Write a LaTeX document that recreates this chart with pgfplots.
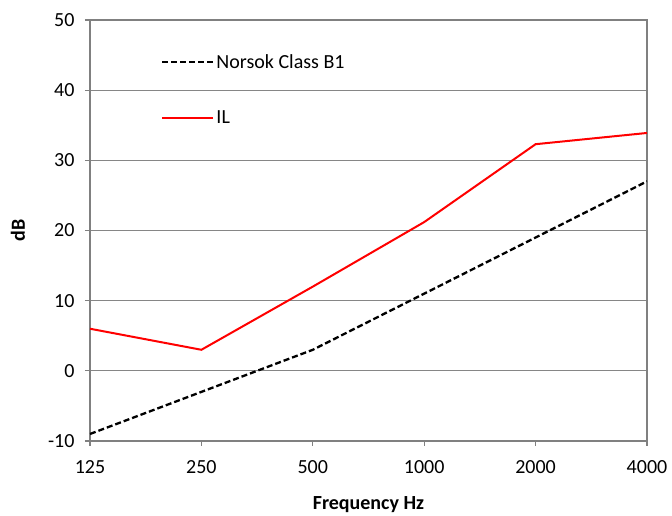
\documentclass[border=0pt]{standalone}
\usepackage{pgfplots}
\pgfplotsset{compat=1.18}
\usepackage{fontspec}
\setmainfont{Carlito}
\definecolor{gridgray}{HTML}{868686}
\definecolor{axgray}{HTML}{808080}

\begin{document}
\begin{tikzpicture}
\begin{axis}[
    scale only axis,
    width=557pt, height=421pt,
    at={(0pt,0pt)}, anchor=south west,
    xmin=0, xmax=5,
    ymin=-10, ymax=50,
    xtick={0,1,2,3,4,5},
    xticklabels={125,250,500,1000,2000,4000},
    ytick={-10,0,10,20,30,40,50},
    ymajorgrids,
    major grid style={draw=gridgray, line width=1pt},
    axis line style={draw=axgray, line width=1.2pt},
    tick style={draw=axgray, line width=1.2pt},
    tick align=outside,
    major tick length=5pt,
    xtick pos=bottom, ytick pos=left,
    /pgf/number format/assume math mode=true,
    ticklabel style={font=\fontsize{20}{23}\selectfont, text=black},
    yticklabel style={xshift=-7pt},
    xticklabel style={yshift=-11pt},
    xlabel={\textbf{Frequency Hz}},
    ylabel={\textbf{dB}},
    label style={font=\fontsize{20}{23}\selectfont},
    xlabel style={at={(0.5,-64pt)}, anchor=center},
    ylabel style={at={(-72pt,0.5)}, anchor=center},
    legend style={
        at={(71pt,351pt)}, anchor=west,
        draw=none, fill=none,
        font=\fontsize{20}{23}\selectfont,
        row sep=37pt,
        inner sep=0pt,
        /tikz/every even column/.append style={column sep=4pt},
        legend cell align=left,
    },
    legend image code/.code={\draw[#1] (0pt,0pt) -- (51pt,0pt);},
]
\addplot[black, line width=2.3pt, dash pattern=on 6pt off 3pt] coordinates {
    (0,-9) (1,-3) (2,3) (3,11) (4,19) (5,27)
};
\addlegendentry{Norsok Class B1}
\addplot[red, line width=2pt] coordinates {
    (0,6) (1,3) (2,12) (3,21.2) (4,32.3) (5,33.9)
};
\addlegendentry{IL}
\end{axis}
\pgfresetboundingbox
\path[use as bounding box] (-90pt,-75pt) rectangle (582pt,441pt);
\end{tikzpicture}
\end{document}
